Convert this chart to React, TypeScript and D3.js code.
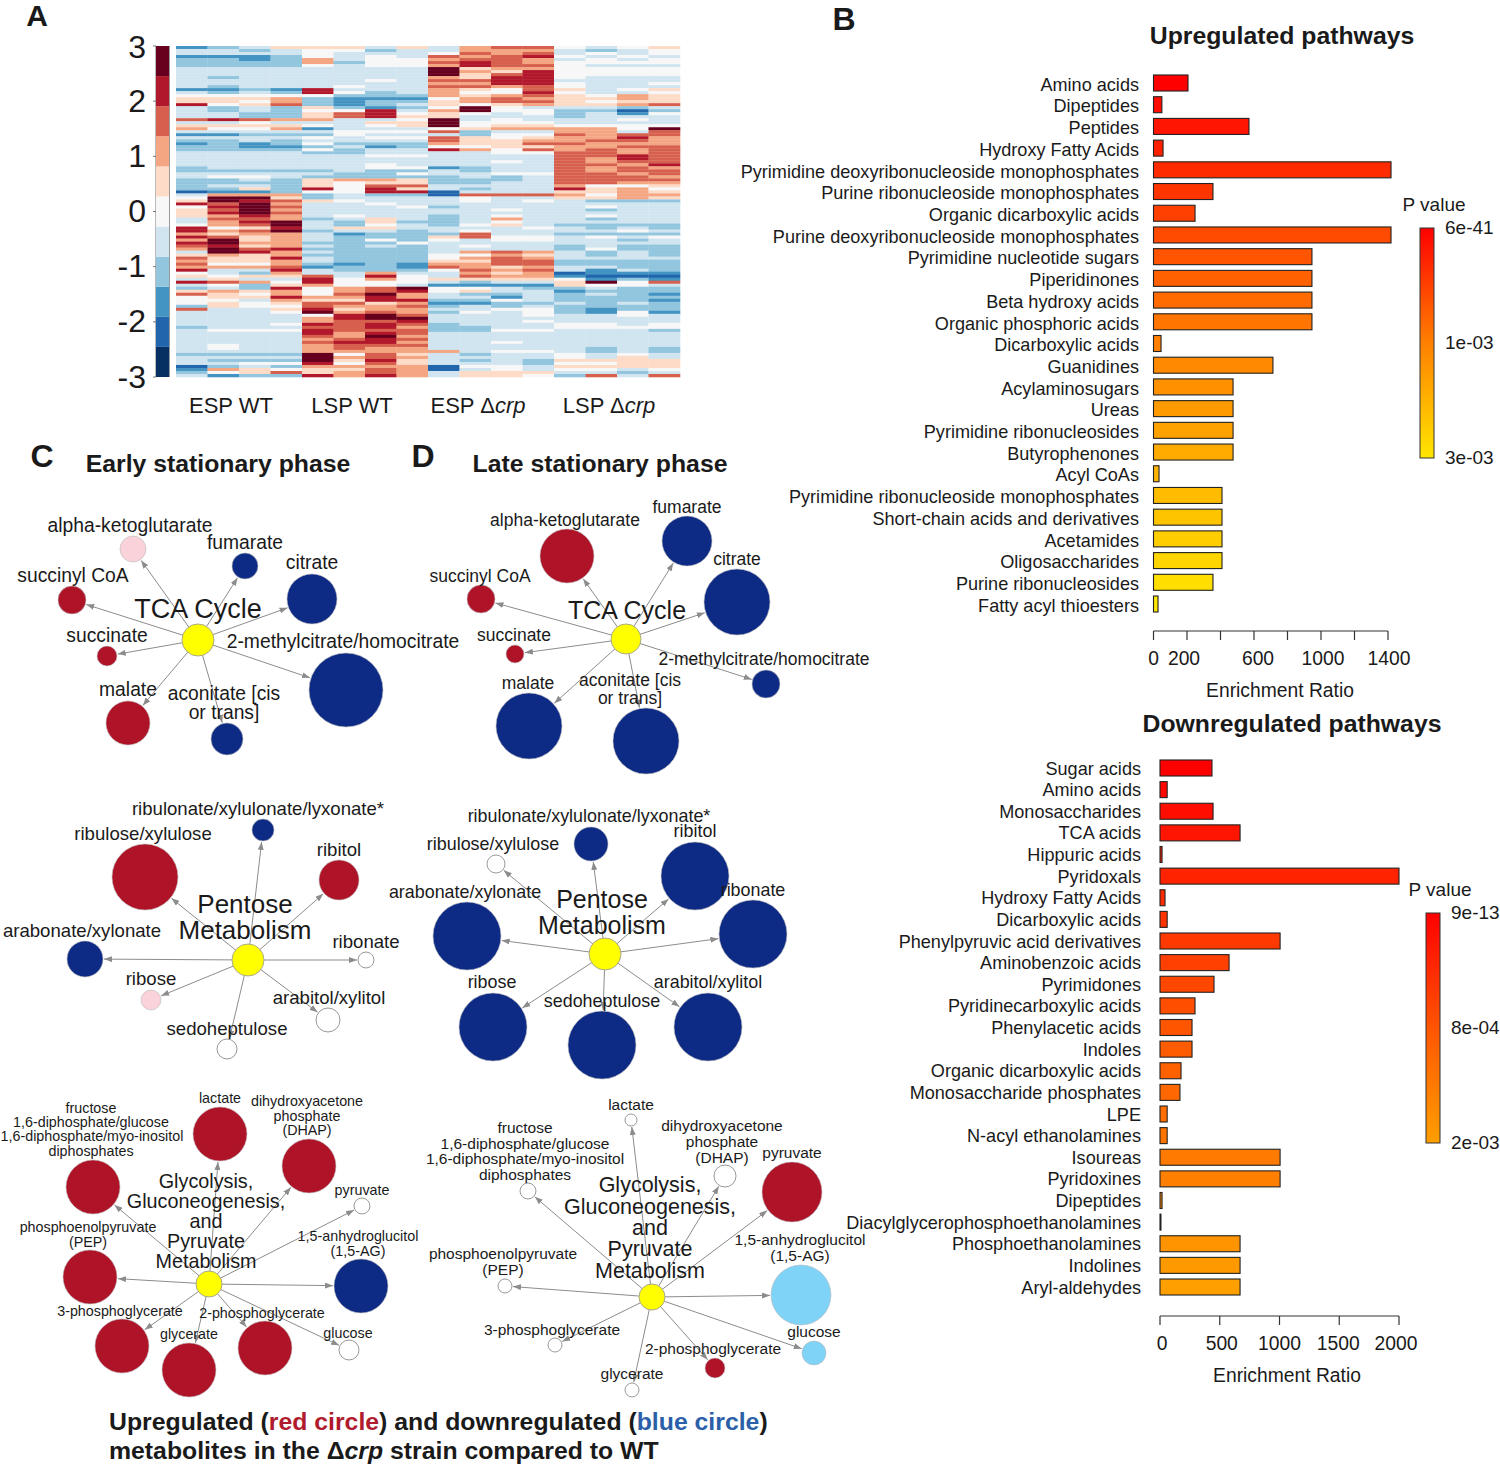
import React from 'react'
import * as d3 from 'd3'

const FONT = '"Liberation Sans", Arial, sans-serif'

// heatmap: one string per metabolite, one character per sample, level 0 (-3) .. a (+3)
const heatmapRows = [
  '2346 6646 4788 5456', '4434 5534 4777 4345', '4444 5444 5878 4545', '2223 5454 8789 5454',
  '3323 7455 7887 4545', '3333 7355 8987 5555', '3333 5455 7988 5444', '4444 4444 a677 5555',
  '4444 4444 a769 5555', '4444 4444 a689 5555', '4344 4444 7699 5444', '4444 4454 8899 4444',
  '4444 4444 7799 5445', '4344 4544 8878 5444', '2232 9444 7658 6456', '4343 9534 7559 5445',
  '5555 5333 7678 6576', '6667 3222 5787 6676', '6657 3233 6788 6566', '9568 3234 6567 6678',
  '4343 6323 5a54 4434', '4343 5594 7a55 3313', '4433 6895 6545 3425', '4433 6896 6444 3444',
  '8987 7445 a454 4454', '4454 4466 a555 4444', '6666 5456 a566 5555', '7557 2444 5677 775a',
  '4444 4555 8344 7748', '2233 3544 4355 8788', '4444 5455 8656 7797', '3343 4444 8667 7887',
  '2323 5333 7668 8777', '3322 3423 5566 7788', '3333 5344 9758 7878', '4444 3344 4455 8878',
  '4444 4455 4444 8898', '4444 4444 4444 8798', '4444 4444 4454 8788', '4444 4454 4444 8879',
  '3444 4455 2344 8787', '3333 3433 4344 8788', '4444 4335 4455 8878', '4554 3333 3434 8887',
  '3343 6776 3334 8888', '3333 6566 3344 8877', '3443 6588 4444 7556', '3363 9596 4344 9675',
  '1223 5599 1444 6676', '4777 3433 1888 7577', '5aa6 3444 4544 6676', '6a98 6544 4545 4333',
  '98a7 4454 4444 4444', '59a8 4445 3444 4544', '68a7 4444 4454 4344', '69a8 4444 4444 4444',
  '6797 4544 3454 4544', '4887 3464 3474 4344', '479a 4363 3454 4444', '578a 4354 3564 3333',
  '9569 4664 4445 4343', '978a 3443 4544 4454', '7677 4233 3844 3333', '9867 4333 6855 4545',
  '7a67 4353 5455 4434', '9a77 3335 4444 4444', '8967 4343 4544 3433', '7a89 3333 4444 3533',
  '4a97 4333 4787 4343', '6767 3333 5576 4343', '8669 4333 5787 4444', '7667 4333 6688 3333',
  '8557 3232 7788 3333', '7778 2332 8767 4433', '9449 4333 5878 4243', '5437 4474 4767 1222',
  '6566 8495 4877 2111', '4644 9575 6666 5232', '9875 9555 4344 6a58', '4536 7554 2222 6554',
  '3439 578a 5543 3433', '6767 5789 5644 2333', '8657 58a7 4334 3432', '5669 7797 4424 3333',
  '5547 6699 3354 3332', '5656 8867 2233 4343', '3655 8778 3434 3333', '8446 9677 4455 3233',
  '4445 a787 3545 3252', '4444 59a8 4445 4454', '4444 79aa 4444 4444', '4444 7889 4445 4444',
  '4445 9898 3444 5545', '3444 8897 3344 5555', '4555 9888 3355 4443', '4444 9798 4444 4444',
  '4444 87a7 4444 4444', '4444 7898 4444 4444', '4444 8997 4454 4444', '4544 7888 4444 4444',
  '4544 7877 4444 4343', '4444 7777 7455 4343', '3333 a586 4344 5454', '4444 a787 4444 5464',
  '4333 a696 4343 6666', '4455 9586 4443 5566', '1343 7777 1554 6666', '2765 6687 1454 5545',
  '3568 6787 4666 4434', '4233 9797 4665 3848',
].map((row) => row.replace(/ /g, ''))

const heatLevels = ['#053061', '#2166ac', '#4393c3', '#92c5de', '#d1e5f0', '#f7f7f7', '#fddbc7', '#f4a582', '#d6604d', '#b2182b', '#67001f']
const heatTicks = [3, 2, 1, 0, -1, -2, -3]
const heatGroups = [['ESP WT', ''], ['LSP WT', ''], ['ESP Δ', 'crp'], ['LSP Δ', 'crp']]

const upCategories = [
  'Amino acids', 'Dipeptides', 'Peptides', 'Hydroxy Fatty Acids', 'Pyrimidine deoxyribonucleoside monophosphates',
  'Purine ribonucleoside monophosphates', 'Organic dicarboxylic acids', 'Purine deoxyribonucleoside monophosphates',
  'Pyrimidine nucleotide sugars', 'Piperidinones', 'Beta hydroxy acids', 'Organic phosphoric acids', 'Dicarboxylic acids',
  'Guanidines', 'Acylaminosugars', 'Ureas', 'Pyrimidine ribonucleosides', 'Butyrophenones', 'Acyl CoAs',
  'Pyrimidine ribonucleoside monophosphates', 'Short-chain acids and derivatives', 'Acetamides', 'Oligosaccharides',
  'Purine ribonucleosides', 'Fatty acyl thioesters',
]
const upValues = [206, 50, 570, 57, 1418, 355, 248, 1418, 946, 946, 946, 946, 45, 713, 475, 475, 475, 475, 33, 409, 409, 409, 409, 355, 27]
const upTicks = [0, 200, 400, 600, 800, 1000, 1200, 1400]
const upTickLabels = [0, 200, 600, 1000, 1400]
const upTickNudge = [0, -3, 4, 2, 1]
const upLegend = ['6e-41', '1e-03', '3e-03']

const downCategories = [
  'Sugar acids', 'Amino acids', 'Monosaccharides', 'TCA acids', 'Hippuric acids', 'Pyridoxals', 'Hydroxy Fatty Acids',
  'Dicarboxylic acids', 'Phenylpyruvic acid derivatives', 'Aminobenzoic acids', 'Pyrimidones', 'Pyridinecarboxylic acids',
  'Phenylacetic acids', 'Indoles', 'Organic dicarboxylic acids', 'Monosaccharide phosphates', 'LPE', 'N-acyl ethanolamines',
  'Isoureas', 'Pyridoxines', 'Dipeptides', 'Diacylglycerophosphoethanolamines', 'Phosphoethanolamines', 'Indolines', 'Aryl-aldehydes',
]
const downValues = [435, 60, 444, 670, 17, 2000, 42, 60, 1005, 578, 452, 293, 268, 268, 176, 167, 60, 60, 1005, 1005, 17, 8, 670, 670, 670]
const downTicks = [0, 500, 1000, 1500, 2000]
const downTickNudge = [2, 2, 0, -1, -3]
const downLegend = ['9e-13', '8e-04', '2e-03']

// networks: [x, y, size, kind], kinds: up, down, upMild, downMild, none
type Kind = 'up' | 'down' | 'upMild' | 'downMild' | 'none'
type NetNode = [number, number, number, Kind]
type NetLabel = [string, number, number]

const kindColors: Record<Kind, string> = { up: '#ae1328', down: '#0d2a85', upMild: '#f9d2da', downMild: '#7fd3f6', none: '#ffffff' }

const tcaEarlyNodes: NetNode[] = [
  [133, 549, 173, 'upMild'], [245, 566, 173, 'down'], [312, 599, 639, 'down'], [72, 600, 200, 'up'],
  [107, 656, 102, 'up'], [128, 723, 495, 'up'], [227, 739, 262, 'down'], [346, 690, 1400, 'down'],
]
const tcaEarlyLabels: NetLabel[] = [
  ['alpha-ketoglutarate', 130, 526], ['fumarate', 245, 543], ['citrate', 312, 563], ['succinyl CoA', 73, 576],
  ['succinate', 107, 636], ['malate', 128, 690], ['aconitate [cis', 224, 694], ['or trans]', 224, 713],
  ['2-methylcitrate/homocitrate', 343, 642],
]
const tcaLateNodes: NetNode[] = [
  [567, 556, 745, 'up'], [687, 541, 639, 'down'], [737, 602, 1114, 'down'], [481, 599, 200, 'up'],
  [515, 654, 83, 'up'], [529, 726, 1114, 'down'], [646, 741, 1114, 'down'], [766, 684, 200, 'down'],
]
const tcaLateLabels: NetLabel[] = [
  ['alpha-ketoglutarate', 565, 520], ['fumarate', 687, 507], ['citrate', 737, 559], ['succinyl CoA', 480, 576],
  ['succinate', 514, 635], ['malate', 528, 683], ['aconitate [cis', 630, 680], ['or trans]', 630, 698],
  ['2-methylcitrate/homocitrate', 764, 659],
]
const pentoseEarlyNodes: NetNode[] = [
  [263, 830, 124, 'down'], [145, 877, 1114, 'up'], [339, 880, 409, 'up'], [85, 959, 331, 'down'],
  [366, 960, 65, 'none'], [151, 1000, 102, 'upMild'], [328, 1020, 147, 'none'], [227, 1049, 102, 'none'],
]
const pentoseEarlyLabels: NetLabel[] = [
  ['ribulonate/xylulonate/lyxonate*', 258, 809], ['ribulose/xylulose', 143, 834], ['ribitol', 339, 850],
  ['arabonate/xylonate', 82, 931], ['ribonate', 366, 942], ['ribose', 151, 979], ['arabitol/xylitol', 329, 998],
  ['sedoheptulose', 227, 1029],
]
const pentoseLateNodes: NetNode[] = [
  [591, 844, 296, 'down'], [496, 864, 83, 'none'], [695, 876, 1182, 'down'], [467, 936, 1182, 'down'],
  [753, 934, 1182, 'down'], [493, 1027, 1182, 'down'], [708, 1027, 1182, 'down'], [602, 1045, 1182, 'down'],
]
const pentoseLateLabels: NetLabel[] = [
  ['ribulonate/xylulonate/lyxonate*', 589, 816], ['ribulose/xylulose', 493, 844], ['ribitol', 695, 831],
  ['arabonate/xylonate', 465, 892], ['ribonate', 753, 890], ['ribose', 492, 982], ['arabitol/xylitol', 708, 982],
  ['sedoheptulose', 602, 1001],
]
const glycEarlyNodes: NetNode[] = [
  [93, 1187, 745, 'up'], [220, 1134, 745, 'up'], [309, 1166, 745, 'up'], [362, 1206, 65, 'none'],
  [361, 1286, 745, 'down'], [349, 1350, 102, 'none'], [265, 1348, 745, 'up'], [189, 1370, 745, 'up'],
  [122, 1346, 745, 'up'], [90, 1277, 745, 'up'],
]
const glycEarlyLabels: NetLabel[] = [
  ['fructose', 91, 1108], ['1,6-diphosphate/glucose', 91, 1122], ['1,6-diphosphate/myo-inositol', 92, 1136],
  ['diphosphates', 91, 1151], ['lactate', 220, 1098], ['dihydroxyacetone', 307, 1101], ['phosphate', 307, 1116],
  ['(DHAP)', 307, 1130], ['pyruvate', 362, 1190], ['1,5-anhydroglucitol', 358, 1236], ['(1,5-AG)', 358, 1251],
  ['phosphoenolpyruvate', 88, 1227], ['(PEP)', 88, 1242], ['3-phosphoglycerate', 120, 1311],
  ['2-phosphoglycerate', 262, 1313], ['glycerate', 189, 1334], ['glucose', 348, 1333],
]
const glycLateNodes: NetNode[] = [
  [528, 1191, 65, 'none'], [631, 1120, 37, 'none'], [725, 1176, 124, 'none'], [792, 1192, 920, 'up'],
  [801, 1295, 920, 'downMild'], [814, 1353, 147, 'downMild'], [715, 1368, 102, 'up'], [632, 1390, 50, 'none'],
  [555, 1345, 50, 'none'], [505, 1286, 50, 'none'],
]
const glycLateLabels: NetLabel[] = [
  ['fructose', 525, 1128], ['1,6-diphosphate/glucose', 525, 1144], ['1,6-diphosphate/myo-inositol', 525, 1159],
  ['diphosphates', 525, 1175], ['lactate', 631, 1105], ['dihydroxyacetone', 722, 1126], ['phosphate', 722, 1142],
  ['(DHAP)', 722, 1158], ['pyruvate', 792, 1153], ['1,5-anhydroglucitol', 800, 1240], ['(1,5-AG)', 800, 1256],
  ['phosphoenolpyruvate', 503, 1254], ['(PEP)', 503, 1270], ['3-phosphoglycerate', 552, 1330],
  ['2-phosphoglycerate', 713, 1349], ['glycerate', 632, 1374], ['glucose', 814, 1332],
]

const nodeSize = d3.scaleSqrt().domain([0, 1400]).range([0, 37])

const Heatmap = () => {
  const x = d3.scaleBand<number>().domain(d3.range(16)).range([176, 680])
  const y = d3.scaleBand<number>().domain(d3.range(heatmapRows.length)).range([46, 377])
  const legendY = d3.scaleBand<number>().domain(d3.range(heatLevels.length)).range([377, 46])
  const tickY = d3.scaleLinear().domain([-3, 3]).range([377, 46])
  return (
    <g>
      {heatmapRows.map((row, r) =>
        row.split('').map((c, i) => (
          <rect key={`${r}-${i}`} x={x(i)} y={y(r)} width={x.bandwidth() + 0.3} height={y.bandwidth() + 0.3} fill={heatLevels[parseInt(c, 16)]} />
        )),
      )}
      {heatLevels.map((color, i) => (
        <rect key={i} x={156} y={legendY(i)} width={13} height={legendY.bandwidth()} fill={color} />
      ))}
      <line x1={169.5} x2={169.5} y1={46} y2={377} stroke="#999" strokeWidth={1} />
      <line x1={155.5} x2={155.5} y1={46} y2={377} stroke="#bbb" strokeWidth={1} />
      {heatTicks.map((t) => (
        <g key={t}>
          <line x1={153} x2={156} y1={tickY(t)} y2={tickY(t)} stroke="#777" />
          <text x={146} y={tickY(t) + (t === 3 ? 1 : 0) - 1} dy="0.36em" textAnchor="end" fontSize={32}>{t}</text>
        </g>
      ))}
      {heatGroups.map(([label, ital], i) => (
        <text key={i} x={[231, 352, 478, 609][i]} y={405} dy="0.36em" textAnchor="middle" fontSize={22}>
          {label}<tspan fontStyle="italic">{ital}</tspan>
        </text>
      ))}
    </g>
  )
}

const BarPanel = ({ categories, values, domainMax, xRange, yRange, ticks, tickLabels, tickNudge, labelRight, labelShift, axisY, colors, gradId }: {
  categories: string[]; values: number[]; domainMax: number; xRange: [number, number]; yRange: [number, number]
  ticks: number[]; tickLabels: number[]; tickNudge: number[]; labelRight: number; labelShift: number; axisY: number; colors: string[]; gradId: string
}) => {
  const x = d3.scaleLinear().domain([0, domainMax]).range(xRange)
  const y = d3.scalePoint<number>().domain(d3.range(categories.length)).range(yRange)
  const color = d3.scaleLinear<string>().domain([0, (categories.length - 1) / 2, categories.length - 1]).range(colors)
  return (
    <g>
      {categories.map((c, i) => (
        <g key={c + i}>
          <text x={labelRight} y={(y(i) as number) + labelShift} dy="0.36em" textAnchor="end" fontSize={18.1}>{c}</text>
          <rect x={x(0)} y={(y(i) as number) - 8} width={x(values[i]) - x(0)} height={16} fill={color(i)} stroke="#222" strokeWidth={1.1} />
        </g>
      ))}
      <line x1={x(0)} x2={x(domainMax)} y1={axisY} y2={axisY} stroke="#333" strokeWidth={1.2} />
      {ticks.map((t) => (
        <line key={t} x1={x(t)} x2={x(t)} y1={axisY} y2={axisY + 9} stroke="#333" strokeWidth={1.2} />
      ))}
      {tickLabels.map((t, i) => (
        <text key={t} x={x(t) + tickNudge[i]} y={axisY + 27.5} dy="0.36em" textAnchor="middle" fontSize={19.3}>{t}</text>
      ))}
      <defs>
        <linearGradient id={gradId} x1="0" x2="0" y1="0" y2="1">
          {colors.map((c, i) => <stop key={i} offset={i / (colors.length - 1)} stopColor={c} />)}
        </linearGradient>
      </defs>
    </g>
  )
}

const Legend = ({ x, top, bottom, labels, gradId }: { x: number; top: number; bottom: number; labels: string[]; gradId: string }) => {
  const y = d3.scalePoint<string>().domain(labels).range([top, bottom])
  return (
    <g>
      <text x={x + 14} y={top - 24} dy="0.36em" textAnchor="middle" fontSize={19}>P value</text>
      <rect x={x} y={top} width={14} height={bottom - top} fill={`url(#${gradId})`} stroke="#333" strokeWidth={1} />
      {labels.map((l) => (
        <text key={l} x={x + 25} y={(y(l) as number) - 1} dy="0.36em" fontSize={19}>{l}</text>
      ))}
    </g>
  )
}

const Network = ({ hub, hubR, nodes, labels, title, titleSize, labelSize }: {
  hub: [number, number]; hubR: number; nodes: NetNode[]; labels: NetLabel[]; title: NetLabel[]; titleSize: number; labelSize: number
}) => (
  <g>
    {nodes.map(([nx, ny, size], i) => {
      const r = nodeSize(size)
      const angle = Math.atan2(ny - hub[1], nx - hub[0])
      return (
        <line key={i} x1={hub[0]} y1={hub[1]} x2={nx - Math.cos(angle) * (r + 1)} y2={ny - Math.sin(angle) * (r + 1)}
          stroke="#8c8c8c" strokeWidth={1} markerEnd="url(#arrow)" />
      )
    })}
    {nodes.map(([nx, ny, size, kind], i) => (
      <circle key={i} cx={nx} cy={ny} r={nodeSize(size)} fill={kindColors[kind]} stroke={kind === 'none' ? '#999' : '#bbb'} strokeWidth={kind === 'none' ? 1 : 0.6} />
    ))}
    <circle cx={hub[0]} cy={hub[1]} r={hubR} fill="#ffff00" stroke="#a9a98a" strokeWidth={1} />
    {labels.map(([t, lx, ly], i) => (
      <text key={i} x={lx} y={ly - 0.5} dy="0.36em" textAnchor="middle" fontSize={labelSize}>{t}</text>
    ))}
    {title.map(([t, lx, ly], i) => (
      <text key={i} x={lx} y={ly - 0.5} dy="0.36em" textAnchor="middle" fontSize={titleSize}>{t}</text>
    ))}
  </g>
)

export default function App() {
  return (
    <svg width={1500} height={1464} viewBox="0 0 1500 1464" fontFamily={FONT} fill="#1a1a1a"
      style={{ position: 'absolute', left: 0, top: 0, background: '#fff' }}>
      <defs>
        <marker id="arrow" viewBox="0 0 8 6" refX={8} refY={3} markerWidth={8} markerHeight={6} markerUnits="userSpaceOnUse" orient="auto">
          <path d="M0,0L8,3L0,6Z" fill="#8c8c8c" />
        </marker>
      </defs>

      <text x={37} y={15} dy="0.36em" textAnchor="middle" fontSize={30} fontWeight="bold">A</text>
      <text x={844} y={18} dy="0.36em" textAnchor="middle" fontSize={32} fontWeight="bold">B</text>
      <text x={42} y={455} dy="0.36em" textAnchor="middle" fontSize={32} fontWeight="bold">C</text>
      <text x={423} y={455} dy="0.36em" textAnchor="middle" fontSize={32} fontWeight="bold">D</text>

      <Heatmap />

      <text x={1282} y={35} dy="0.36em" textAnchor="middle" fontSize={24.8} fontWeight="bold">Upregulated pathways</text>
      <BarPanel categories={upCategories} values={upValues} domainMax={1400} xRange={[1153.5, 1388]} yRange={[83, 604]}
        ticks={upTicks} tickLabels={upTickLabels} tickNudge={upTickNudge} labelRight={1139} labelShift={1.2} axisY={631} colors={['#ff0000', '#ff8000', '#ffe600']} gradId="upGrad" />
      <text x={1280} y={690} dy="0.36em" textAnchor="middle" fontSize={19.3}>Enrichment Ratio</text>
      <Legend x={1420} top={228} bottom={458} labels={upLegend} gradId="upGrad" />

      <text x={1292} y={723} dy="0.36em" textAnchor="middle" fontSize={24.8} fontWeight="bold">Downregulated pathways</text>
      <BarPanel categories={downCategories} values={downValues} domainMax={2000} xRange={[1160, 1399]} yRange={[768, 1287]}
        ticks={downTicks} tickLabels={downTicks} tickNudge={downTickNudge} labelRight={1141} labelShift={0} axisY={1316} colors={['#ff0000', '#ff5500', '#ff9f00']} gradId="downGrad" />
      <text x={1287} y={1375} dy="0.36em" textAnchor="middle" fontSize={19.3}>Enrichment Ratio</text>
      <Legend x={1426} top={913} bottom={1143} labels={downLegend} gradId="downGrad" />

      <text x={218} y={463.5} dy="0.36em" textAnchor="middle" fontSize={24.8} fontWeight="bold">Early stationary phase</text>
      <text x={600} y={463.5} dy="0.36em" textAnchor="middle" fontSize={24.8} fontWeight="bold">Late stationary phase</text>

      <Network hub={[198, 640]} hubR={16} nodes={tcaEarlyNodes} labels={tcaEarlyLabels} labelSize={19.3} titleSize={27} title={[['TCA Cycle', 198, 609]]} />
      <Network hub={[626, 639]} hubR={15} nodes={tcaLateNodes} labels={tcaLateLabels} labelSize={17.5} titleSize={25} title={[['TCA Cycle', 627, 610]]} />
      <Network hub={[248, 960]} hubR={16} nodes={pentoseEarlyNodes} labels={pentoseEarlyLabels} labelSize={18.6} titleSize={26}
        title={[['Pentose', 245, 904], ['Metabolism', 245, 930]]} />
      <Network hub={[605, 954]} hubR={16} nodes={pentoseLateNodes} labels={pentoseLateLabels} labelSize={17.9} titleSize={25}
        title={[['Pentose', 602, 899], ['Metabolism', 602, 925]]} />
      <Network hub={[209, 1284]} hubR={13} nodes={glycEarlyNodes} labels={glycEarlyLabels} labelSize={14.3} titleSize={19.8}
        title={[['Glycolysis,', 206, 1181], ['Gluconeogenesis,', 206, 1201], ['and', 206, 1221], ['Pyruvate', 206, 1241], ['Metabolism', 206, 1261]]} />
      <Network hub={[652, 1297]} hubR={13} nodes={glycLateNodes} labels={glycLateLabels} labelSize={15.5} titleSize={21.5}
        title={[['Glycolysis,', 650, 1185], ['Gluconeogenesis,', 650, 1207], ['and', 650, 1228], ['Pyruvate', 650, 1249], ['Metabolism', 650, 1271]]} />

      <text x={109} y={1429.5} fontSize={24.8} fontWeight="bold">
        Upregulated (<tspan fill="#b01c2e">red circle</tspan>) and downregulated (<tspan fill="#2b5fa8">blue circle</tspan>)
      </text>
      <text x={109} y={1458.5} fontSize={24.8} fontWeight="bold">
        metabolites in the Δ<tspan fontStyle="italic">crp</tspan> strain compared to WT
      </text>
    </svg>
  )
}
